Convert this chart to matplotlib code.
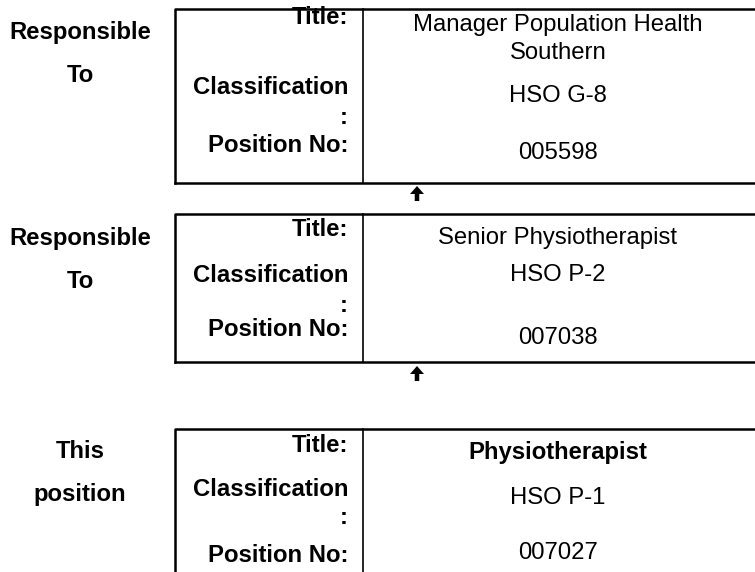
import matplotlib.pyplot as plt

plt.rcParams['font.family'] = ['Liberation Sans', 'DejaVu Sans']

# Contenu des trois cases
side_labels = [['Responsible', 'To'], ['Responsible', 'To'], ['This', 'position']]
titles = [['Manager Population Health', 'Southern'], ['Senior Physiotherapist'], ['Physiotherapist']]
classifications = ['HSO G-8', 'HSO P-2', 'HSO P-1']
position_nos = ['005598', '007038', '007027']
field_names = ['Title:', 'Classification', ':', 'Position No:']

# Mise en page (pixels)
box_tops = [9, 214, 429]
box_bottoms = [183, 362, 580]
field_y = [[17, 88, 118, 146], [229, 275, 305, 329], [445, 489, 518, 555]]
side_y = [[32, 76], [238, 282], [452, 495]]
title_y = [[25, 53], [238], [452]]
class_y = [96, 275, 498]
pos_y = [153, 338, 553]
arrows = [(186, 201), (366, 381)]

x_left, x_div, x_right = 175, 363, 760
fs = 17.2

fig = plt.figure(figsize=(7.55, 5.72), dpi=100)
ax = fig.add_axes([0, 0, 1, 1])
ax.set_xlim(0, 755)
ax.set_ylim(572, 0)
ax.axis('off')

for i in range(3):
    top, bot = box_tops[i], box_bottoms[i]
    ax.plot([x_right, x_left, x_left], [top, top, bot], color='black', lw=1.8, solid_capstyle='projecting')
    if i < 2:
        ax.plot([x_left, x_right], [bot, bot], color='black', lw=1.8)
    ax.plot([x_div, x_div], [top, bot], color='black', lw=1.2)

    for lab, y in zip(side_labels[i], side_y[i]):
        ax.text(80, y, lab, ha='center', va='center', fontsize=fs, fontweight='bold')
    for lab, y in zip(field_names, field_y[i]):
        ax.text(348, y, lab, ha='right', va='center', fontsize=fs, fontweight='bold')

    weight = 'bold' if i == 2 else 'normal'
    for lab, y in zip(titles[i], title_y[i]):
        ax.text(558, y, lab, ha='center', va='center', fontsize=fs, fontweight=weight)
    ax.text(558, class_y[i], classifications[i], ha='center', va='center', fontsize=fs)
    ax.text(558, pos_y[i], position_nos[i], ha='center', va='center', fontsize=fs)

# Flèches vers le haut
for y0, y1 in arrows:
    ax.arrow(417, y1, 0, y0 - y1, width=4.5, head_width=14, head_length=8,
             length_includes_head=True, color='black', lw=0)

fig.savefig('out.png', dpi=100)
